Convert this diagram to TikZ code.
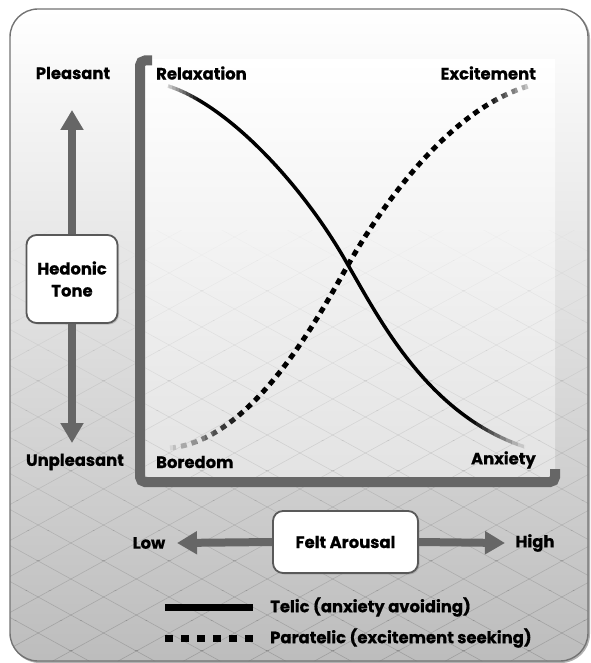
\documentclass[tikz,border=0pt]{standalone}
\usepackage{fontspec}
\setmainfont{Poppins}[BoldFeatures={FakeBold=0.6}]
\usetikzlibrary{arrows.meta,shadows}
\tikzset{
  lbl/.style={font=\bfseries\fontsize{16.4}{18}\selectfont, inner sep=0pt},
  gbox/.style={draw=black!65, line width=1.8pt, fill=white, rounded corners=10pt,
    align=center, font=\bfseries\fontsize{16.4}{22}\selectfont,
    drop shadow={shadow xshift=1.5pt, shadow yshift=-1.5pt, opacity=.35}},
  garrow/.style={draw=black!60, line width=8pt, -{Triangle[width=22pt,length=20pt]}},
  axisline/.style={draw=black!60, line width=10pt, rounded corners=5pt},
  gridline/.style={draw=black, line width=0.6pt},
  telic/.style={line width=3.5pt},
  paratelic/.style={line width=5pt, dash pattern=on 6pt off 5pt},
  telicpath/.style={insert path={(168,86) .. controls (228,105) and (303,185) .. (348,265)
      .. controls (380,320) and (428,415) .. (525,447)}},
  paratelicpath/.style={insert path={(170,448) .. controls (255,440) and (322,310) .. (348,265)
      .. controls (368,230) and (440,110) .. (532,85)}},
}
\newcommand\fadepart[6]{%
  \foreach \k in {0,...,9}{%
    \pgfmathsetmacro\xa{#3+(#4-#3)*\k/10}%
    \pgfmathsetmacro\xb{#3+(#4-#3)*(\k+1)/10+0.4}%
    \pgfmathsetmacro\cc{#5+(#6-#5)*(\k+0.5)/10}%
    \begin{scope}
      \clip (\xa,0) rectangle (\xb,663);
      \draw[#2, draw=black!\cc, #1];
    \end{scope}}}
\begin{document}
\begin{tikzpicture}[x=1pt,y=-1pt]
\useasboundingbox (0,0) rectangle (590,663);
% frame
\draw[black!30, line width=2pt, rounded corners=28pt] (11.5,10.5) rectangle (589,662);
\shade[rounded corners=28pt, top color=white, middle color=black!7, bottom color=black!26] (10,9) rectangle (588,661);
\shade[top color=white, bottom color=black!11] (145,60) rectangle (555,478);
% grid
\begin{scope}
  \clip[rounded corners=28pt] (10,9) rectangle (588,661);
  \foreach \b in {0,...,14}{
    \begin{scope}
      \clip (0,230+\b*30) rectangle (590,260.5+\b*30);
      \pgfmathsetmacro\op{0.02+\b*0.01}
      \foreach \c in {-432,-396,...,720}{
        \draw[gridline, opacity=\op] (0,\c) -- (600,\c+330);
        \draw[gridline, opacity=\op] (0,\c+330) -- (600,\c);
      }
    \end{scope}}
\end{scope}
\draw[black!55, line width=1.4pt, rounded corners=28pt] (10,9) rectangle (588,661);
% axes
\draw[axisline] (152,60.5) -- (140,60.5) -- (140,482) -- (555,482) -- (555,469);
% curves
\begin{scope}
  \clip (200,0) rectangle (470,663);
  \draw[telic, black, telicpath];
\end{scope}
\fadepart{telicpath}{telic}{165}{200}{10}{100}
\fadepart{telicpath}{telic}{470}{530}{100}{8}
\begin{scope}
  \clip (245,0) rectangle (485,663);
  \draw[paratelic, black, paratelicpath];
\end{scope}
\fadepart{paratelicpath}{paratelic}{165}{245}{12}{100}
\fadepart{paratelicpath}{paratelic}{485}{535}{100}{10}
% labels
\node[lbl] (pleasant) at (73,73) {Pleasant};
\node[lbl, anchor=west] (relax) at (156,73) {Relaxation};
\node[lbl, anchor=east] (excite) at (536,73) {Excitement};
\node[lbl] (unpleasant) at (75,462) {Unpleasant};
\node[lbl, anchor=west] (boredom) at (156,462) {Boredom};
\node[lbl, anchor=east] (anxiety) at (536,460) {Anxiety};
\node[lbl] (low) at (149,543) {Low};
\node[lbl] (high) at (535,543) {High};
% boxes
\node[gbox, minimum width=91pt, minimum height=88pt] (hedonic) at (72,279) {Hedonic\\Tone};
\node[gbox, minimum width=145pt, minimum height=62pt] (felt) at (345.5,542) {Felt Arousal};
\coordinate (uptip) at (72,110);
\coordinate (downtip) at (72,443);
\coordinate (lefttip) at (177,543);
\coordinate (righttip) at (505,543);
\draw[garrow] (hedonic.north) -- (uptip);
\draw[garrow] (hedonic.south) -- (downtip);
\draw[garrow] (felt.west) -- (lefttip);
\draw[garrow] (felt.east) -- (righttip);
% legend
\coordinate (la) at (165,607);
\coordinate (lb) at (253,607);
\coordinate (lc) at (165,638);
\coordinate (ld) at (253,638);
\draw[line width=7pt] (la) -- (lb);
\draw[line width=7pt, dash pattern=on 8pt off 8pt] (lc) -- (ld);
\node[lbl, anchor=west] (ltelic) at (270,607) {Telic (anxiety avoiding)};
\node[lbl, anchor=west] (lpara) at (270,638) {Paratelic (excitement seeking)};
\end{tikzpicture}
\end{document}
